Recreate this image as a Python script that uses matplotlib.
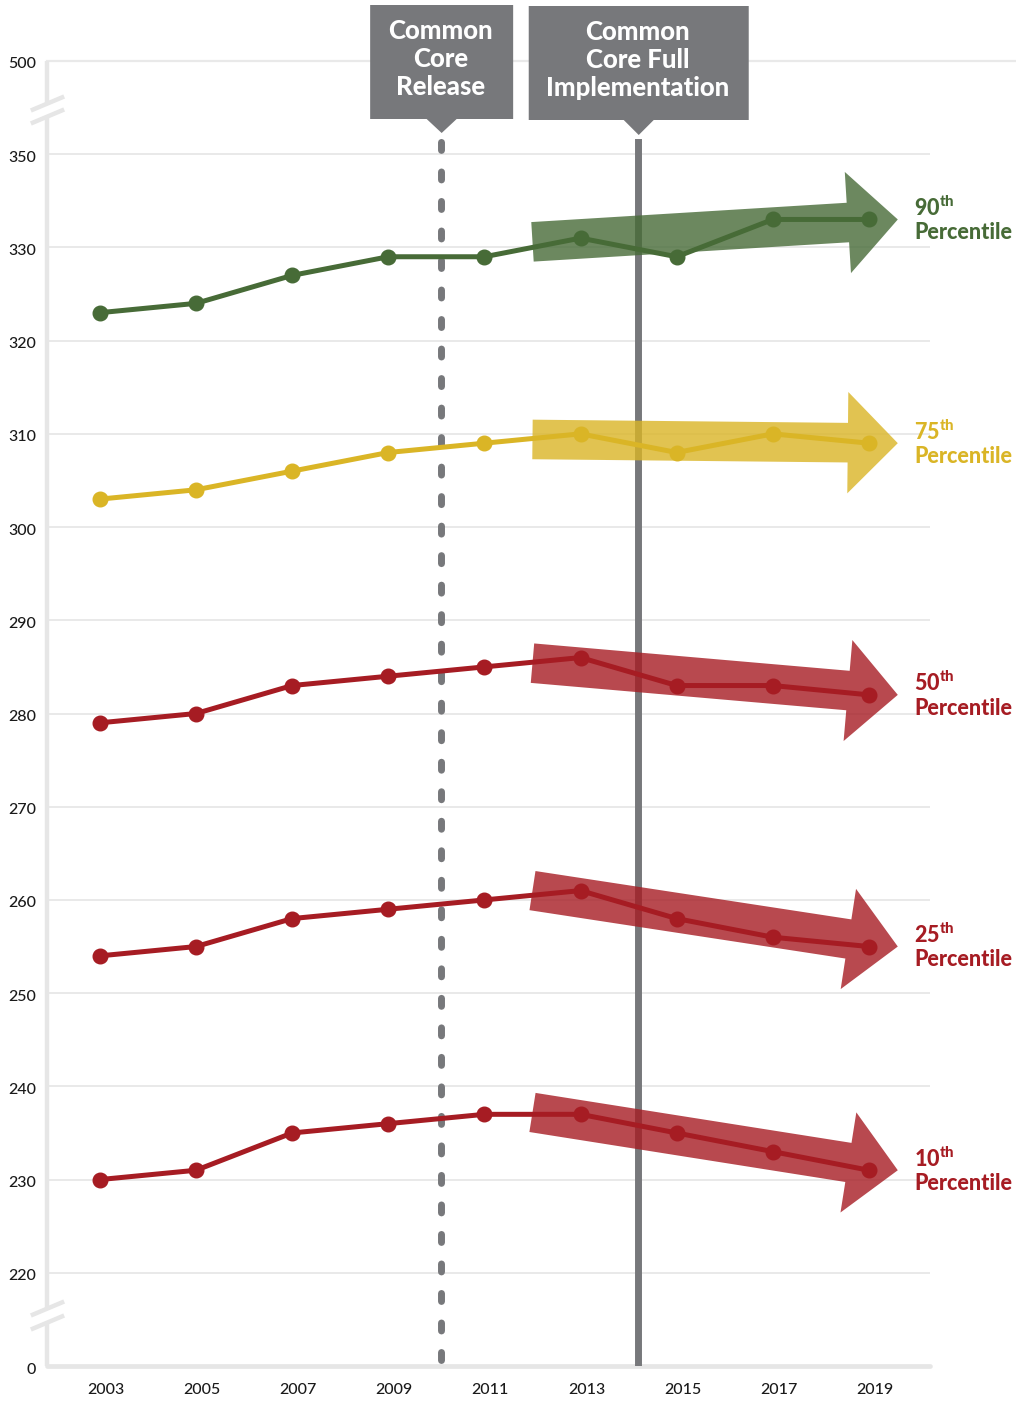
import matplotlib
matplotlib.use("Agg")
import matplotlib.pyplot as plt
from matplotlib.patches import FancyArrowPatch, Polygon
import matplotlib.transforms as mtransforms

plt.rcParams['font.family'] = ['Lato', 'DejaVu Sans']
plt.rcParams['mathtext.fontset'] = 'custom'
plt.rcParams['mathtext.rm'] = 'Lato'
plt.rcParams['mathtext.bf'] = 'Lato:black'

# data
years = [2003, 2005, 2007, 2009, 2011, 2013, 2015, 2017, 2019]
p90 = [323, 324, 327, 329, 329, 331, 329, 333, 333]
p75 = [303, 304, 306, 308, 309, 310, 308, 310, 309]
p50 = [279, 280, 283, 284, 285, 286, 283, 283, 282]
p25 = [254, 255, 258, 259, 260, 261, 258, 256, 255]
p10 = [230, 231, 235, 236, 237, 237, 235, 233, 231]

pct_names = ['90', '75', '50', '25', '10']
pct_colors = ['#476b37', '#dab526', '#a61c23', '#a61c23', '#a61c23']

# trend arrows: start value at 2012, end at last point
arrow_start_year = 2012.0
arrow_end_year = 2019.6
arrow_start_vals = [330.6, 309.4, 285.4, 261.0, 237.2]

# broken y axis: positions and what they stand for
ytick_pos = [210, 220, 230, 240, 250, 260, 270, 280, 290, 300, 310, 320, 330, 340, 350]
ytick_lab = ['0', '220', '230', '240', '250', '260', '270', '280', '290', '300',
             '310', '320', '330', '350', '500']

release_year = 2010.1
full_impl_year = 2014.2
event_labels = ['Common\nCore\nRelease', 'Common\nCore Full\nImplementation']

W, H = 1016, 1403
fig = plt.figure(figsize=(W / 100, H / 100), dpi=100)
ax = fig.add_axes([47 / W, 1 - 1366 / H, 883 / W, 1305 / H])
ax.set_xlim(2001.9, 2020.27)
ax.set_ylim(210, 350)

grid_c = '#e9e9e9'
axis_c = '#e6e6e6'
gray = '#77787b'

for s in ax.spines.values():
    s.set_visible(False)

for yv in ytick_pos[1:-1]:
    ax.axhline(yv, color=grid_c, lw=1.4, zorder=0)
ax.axhline(ytick_pos[-1], xmin=0, xmax=(W - 47) / 883, color=grid_c, lw=1.6,
           zorder=0, clip_on=False)

# axis lines with breaks
yt = ax.get_yaxis_transform()
for y0, y1 in [(210, 214.7), (216.2, 344.1), (345.5, 350)]:
    ax.plot([0, 0], [y0, y1], color=axis_c, lw=3.2, transform=yt,
            clip_on=False, solid_capstyle='butt', zorder=1)
ax.plot([0, 1], [210, 210], color=axis_c, lw=3.4, transform=yt,
        clip_on=False, solid_capstyle='round', zorder=1)
ax.plot([0, 0, 0, 0], [214.7, 216.2, 344.1, 345.5], linestyle='none',
        marker=[(-1, -0.42), (1, 0.42)], markersize=24, mew=3.2,
        color=axis_c, transform=yt, clip_on=False, zorder=1)

ax.set_yticks(ytick_pos)
ax.set_yticklabels(ytick_lab)
ax.set_xticks(years)
ax.set_xticklabels([str(y) for y in years])
ax.tick_params(axis='both', length=0, labelsize=11.5, labelcolor='#1a1a1a')
ax.tick_params(axis='y', pad=8)
ax.tick_params(axis='x', pad=12)
for lab in ax.get_xticklabels() + ax.get_yticklabels():
    lab.set_fontweight('medium')
for lab in ax.get_xticklabels():
    lab.set_transform(lab.get_transform() +
                      mtransforms.ScaledTranslation(6 / 100, 0, fig.dpi_scale_trans))
for lab in ax.get_yticklabels():
    lab.set_transform(lab.get_transform() +
                      mtransforms.ScaledTranslation(0, -2 / 100, fig.dpi_scale_trans))

# event lines
ax.axvline(release_year, ymin=(210.6 - 210) / 140, ymax=(341.6 - 210) / 140,
           color=gray, lw=5, linestyle=(0, (1.15, 3.1)), dash_capstyle='round',
           zorder=2)
ax.axvline(full_impl_year, ymin=(210.3 - 210) / 140, ymax=(341.3 - 210) / 140,
           color=gray, lw=5, zorder=2)

series = [p90, p75, p50, p25, p10]
for vals, col in zip(series, pct_colors):
    ax.plot(years, vals, color=col, lw=3.6, marker='o', markersize=10.5, zorder=4)

for vals, col, sv, name in zip(series, pct_colors, arrow_start_vals, pct_names):
    arr = FancyArrowPatch((arrow_start_year, sv), (arrow_end_year, vals[-1]),
                          arrowstyle='simple,head_length=36,head_width=73,tail_width=28.5',
                          mutation_scale=1, shrinkA=0, shrinkB=0,
                          color=col, alpha=0.8, lw=0, zorder=3)
    ax.add_patch(arr)
    ax.annotate(name + r'$^{\mathbf{th}}$' + '\nPercentile', (2019.94, vals[-1]),
                xytext=(0, 0), textcoords='offset points', ha='left', va='center',
                fontsize=15.5, fontweight='black', color=col, linespacing=1.15,
                annotation_clip=False)

# event boxes at the top
ident = mtransforms.IdentityTransform()
boxes = [(release_year, 143, 5, 119, 133), (full_impl_year, 220, 6, 120, 135)]
for (yr, bw, top, bot, tip), txt in zip(boxes, event_labels):
    cx = ax.transData.transform((yr, 300))[0] + 0.5
    t, b, p = H - top, H - bot, H - tip
    verts = [(cx - bw / 2, t), (cx + bw / 2, t), (cx + bw / 2, b), (cx + 15, b),
             (cx, p), (cx - 15, b), (cx - bw / 2, b)]
    fig.patches.append(Polygon(verts, closed=True, facecolor=gray, edgecolor='none',
                               transform=ident, figure=fig))
    fig.text(cx - 1, (t + b) / 2 + 3, txt, transform=ident, ha='center', va='center',
             color='white', fontsize=18.5, fontweight='black', linespacing=1.22)

fig.savefig('out.png', dpi=100)
